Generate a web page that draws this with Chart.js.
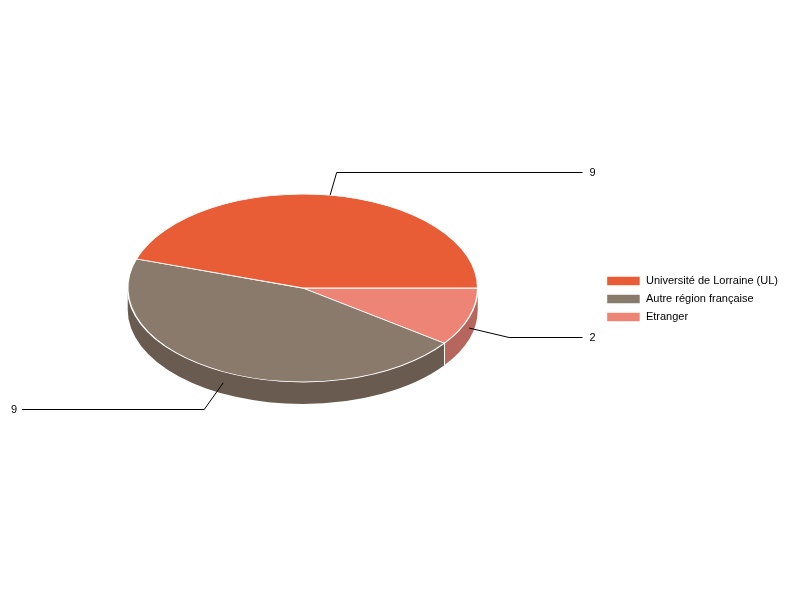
<!DOCTYPE html>
<html lang="fr">
<head>
  <meta charset="UTF-8">
  <title>Origine des étudiants</title>
  <script src="https://cdn.jsdelivr.net/npm/chart.js"></script>
  <style>
    body {
      margin: 0;
      background: #fff;
    }
    #chart-container {
      width: 800px;
      height: 600px;
    }
  </style>
</head>
<body>
  <div id="chart-container">
    <canvas id="pieChart"></canvas>
  </div>

  <script>
    const categories = ['Université de Lorraine (UL)', 'Autre région française', 'Etranger'];
    const values = [9, 9, 2];
    const topColors = ['#e85c36', '#8a7a6c', '#ed8475'];
    const sideColors = ['#b94a2c', '#6a5b50', '#b6665c'];

    const TILT = 94 / 175;   // vertical squash of the pie
    const DEPTH = 22;        // thickness of the pie in px
    const FONT = 'Arial, "Liberation Sans", sans-serif';

    // slices go clockwise from 3 o'clock: Etranger, Autre, UL -> feed them reversed
    const order = [2, 1, 0];

    const pie3d = {
      id: 'pie3d',
      beforeDatasetsDraw(chart) {
        const ctx = chart.ctx;
        const arcs = chart.getDatasetMeta(0).data;
        const sides = chart.data.datasets[0].sideColor;
        const cx = arcs[0].x, cy = arcs[0].y;
        const r = arcs[0].outerRadius, ry = r * TILT;
        const top = cy - DEPTH / 2;

        ctx.save();
        arcs.forEach((arc, i) => {
          const a0 = Math.max(arc.startAngle, 0);
          const a1 = Math.min(arc.endAngle, Math.PI);
          if (a1 <= a0) return;
          ctx.beginPath();
          ctx.ellipse(cx, top, r, ry, 0, a0, a1);
          ctx.ellipse(cx, top + DEPTH, r, ry, 0, a1, a0, true);
          ctx.closePath();
          ctx.fillStyle = sides[i];
          ctx.fill();
        });
        // white edge where two slices meet on the front wall
        ctx.strokeStyle = '#fff';
        ctx.lineWidth = 1;
        arcs.forEach(arc => {
          const a = arc.startAngle;
          if (a > 0.001 && a < Math.PI) {
            const x = Math.round(cx + r * Math.cos(a)) + 0.5;
            const y = top + ry * Math.sin(a);
            ctx.beginPath();
            ctx.moveTo(x, y);
            ctx.lineTo(x, y + DEPTH);
            ctx.stroke();
          }
        });
        ctx.restore();

        // squash the top face
        ctx.save();
        ctx.translate(cx, top);
        ctx.scale(1, TILT);
        ctx.translate(-cx, -cy);
      },
      afterDatasetsDraw(chart) {
        const ctx = chart.ctx;
        ctx.restore();

        const arcs = chart.getDatasetMeta(0).data;
        const data = chart.data.datasets[0].data;
        const area = chart.chartArea;
        const cx = arcs[0].x, cy = arcs[0].y;
        const r = arcs[0].outerRadius, ry = r * TILT;
        const top = cy - DEPTH / 2;

        ctx.save();
        ctx.strokeStyle = '#000';
        ctx.fillStyle = '#000';
        ctx.lineWidth = 1;
        ctx.font = '11px ' + FONT;
        ctx.textBaseline = 'middle';
        arcs.forEach((arc, i) => {
          const m = (arc.startAngle + arc.endAngle) / 2;
          const c = Math.cos(m), s = Math.sin(m);
          const front = s > 0;
          const drop = front ? DEPTH / 2 : 0;
          const x0 = cx + r * c, y0 = top + ry * s + drop;
          const x1 = cx + (r + 42) * c;
          const y1 = Math.round(top + (ry + (front ? 30 : 23)) * s + drop) + 0.5;
          const right = c >= 0;
          const x2 = right ? area.right - 17 : area.left + 16;
          ctx.beginPath();
          ctx.moveTo(x0, y0);
          ctx.lineTo(x1, y1);
          ctx.lineTo(x2, y1);
          ctx.stroke();
          ctx.textAlign = right ? 'left' : 'right';
          ctx.fillText(String(data[i]), right ? x2 + 7 : x2 - 5, y1);
        });
        ctx.restore();
      }
    };

    const ctx = document.getElementById('pieChart').getContext('2d');
    new Chart(ctx, {
      type: 'pie',
      data: {
        labels: order.map(i => categories[i]),
        datasets: [{
          data: order.map(i => values[i]),
          backgroundColor: order.map(i => topColors[i]),
          sideColor: order.map(i => sideColors[i]),
          borderColor: '#fff',
          borderWidth: 1.5,
          clip: false
        }]
      },
      options: {
        responsive: true,
        maintainAspectRatio: false,
        animation: false,
        events: [],
        rotation: 90,
        radius: 175,
        layout: {
          padding: { left: 6, right: 12, top: 0, bottom: 2 }
        },
        plugins: {
          legend: {
            position: 'right',
            reverse: true,
            labels: {
              boxWidth: 34,
              boxHeight: 10,
              padding: 7,
              color: '#000',
              font: { size: 11, family: FONT }
            }
          },
          tooltip: { enabled: false }
        }
      },
      plugins: [pie3d]
    });
  </script>
</body>
</html>
